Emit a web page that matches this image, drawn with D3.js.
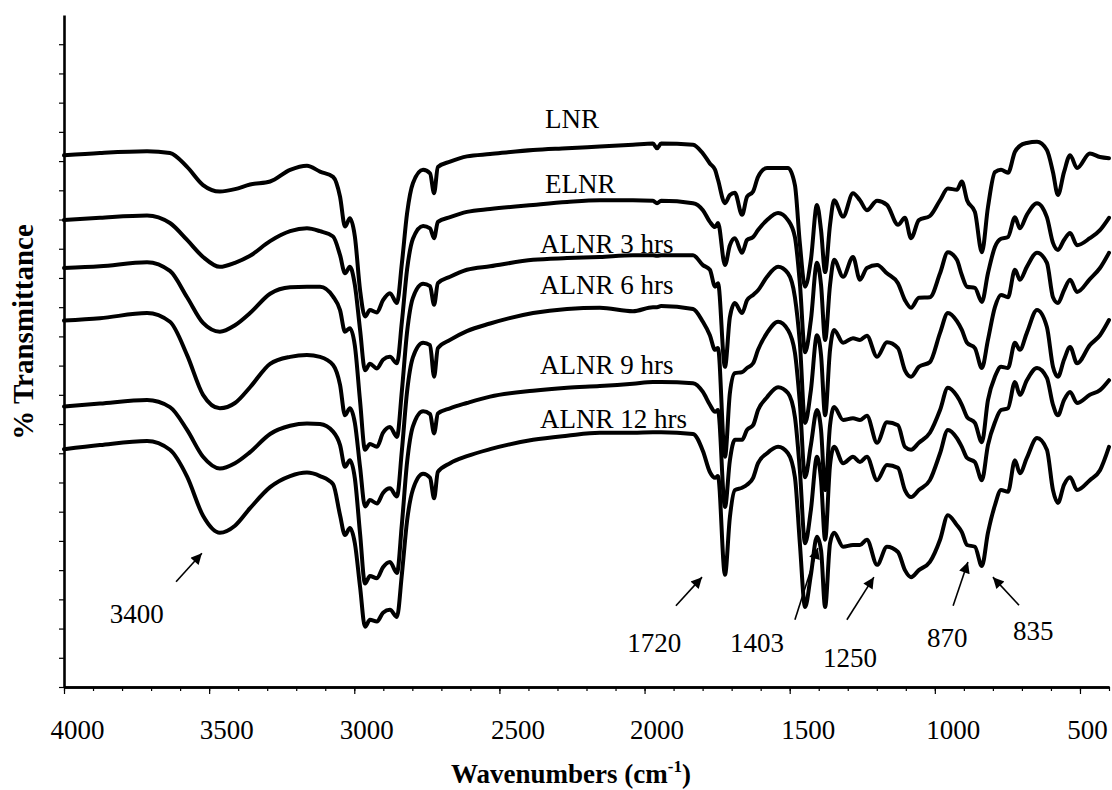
<!DOCTYPE html>
<html><head><meta charset="utf-8">
<script src="https://cdn.jsdelivr.net/npm/d3@7"></script>
<style>
body{margin:0;background:#fff}
svg{display:block}
text{font-family:"Liberation Serif","Times New Roman",serif;fill:#000}
</style>
</head><body>
<svg id="chart" width="1112" height="790"></svg>
<script>
// ---- data (wavenumber grid shared by all spectra) ----
const wavenumbers = [4000,3876,3714,3635,3576,3521,3463,3411,3359,3290,3221,3163,3118,3073,3049,3032,3015,2998,2980,2963,
 2946,2922,2901,2877,2853,2836,2818,2798,2763,2739,2725,2712,2670,2612,2532,2384,2267,2154,2040,1971,
 1957,1943,1833,1799,1775,1757,1747,1723,1706,1689,1664,1647,1626,1609,1578,1540,1506,1482,1465,1447,
 1427,1406,1392,1378,1361,1347,1316,1282,1258,1234,1199,1165,1127,1103,1082,1055,1017,982,955,924,
 907,889,862,838,817,793,772,748,724,707,683,648,614,593,576,555,534,510,466,431,400];

const LNR = [91.0,91.4,91.7,91.4,89.0,85.9,84.8,85.2,86.0,86.5,88.5,89.2,88.2,87.3,83.9,78.8,80.2,77.1,67.9,63.4,
 64.5,64.1,66.2,67.4,65.7,72.5,81.1,86.2,88.5,87.9,84.5,89.0,89.9,90.8,91.2,91.9,92.2,92.5,92.8,93.0,
 92.2,93.0,92.8,91.3,89.6,88.5,86.8,82.8,84.2,84.6,80.8,83.9,84.8,87.3,88.8,88.8,88.8,85.9,75.9,68.5,
 73.1,82.5,78.2,71.0,79.1,83.3,80.5,84.5,83.3,81.6,83.2,82.5,79.1,80.3,76.8,79.9,80.6,83.3,85.3,85.1,
 86.5,83.3,81.3,74.4,82.1,88.1,88.5,88.0,91.6,92.6,93.1,93.3,91.9,88.1,84.2,88.1,91.0,88.8,91.3,90.7,90.5];

const ELNR = [79.9,80.3,80.7,79.4,76.5,73.6,71.9,72.6,73.8,76.3,78.0,78.5,78.0,77.1,73.9,70.8,71.9,68.8,61.1,54.2,
 55.3,54.5,56.0,56.5,55.4,62.5,71.5,76.7,78.9,78.5,76.8,79.6,80.4,81.3,81.8,82.5,83.0,83.3,83.3,83.2,
 82.8,83.2,82.8,81.6,79.6,78.7,79.4,72.2,75.6,76.8,74.3,76.5,77.0,78.2,79.9,81.1,79.9,77.0,69.1,57.3,
 62.8,72.6,68.8,59.4,68.8,73.1,70.2,73.6,69.7,71.7,72.2,70.8,69.1,66.2,64.9,66.6,66.7,70.8,74.4,73.1,
 70.5,68.5,68.3,65.9,70.8,75.3,76.7,77.0,80.4,78.5,80.8,82.8,80.4,76.0,74.8,76.5,77.7,75.6,76.8,78.2,80.3];

const ALNR3 = [71.7,72.0,72.7,71.2,66.7,62.3,60.8,61.9,64.0,67.3,68.4,68.5,68.5,66.8,64.5,60.8,61.4,58.4,48.9,40.6,
 41.6,41.1,43.5,44.5,42.8,50.7,60.8,66.6,69.0,68.6,65.4,69.1,70.2,71.4,72.0,73.1,73.4,73.6,73.9,73.9,
 73.8,73.9,73.9,72.2,71.4,68.5,69.1,54.8,63.3,65.7,64.0,66.2,67.1,67.9,70.2,71.9,70.8,66.7,58.9,45.2,
 50.8,60.2,56.8,46.5,57.7,61.1,58.9,59.7,59.4,60.1,56.5,59.0,58.0,54.2,53.1,54.8,55.6,60.6,64.0,62.6,
 61.1,58.9,58.0,54.6,59.4,65.0,67.1,66.7,71.4,69.7,71.9,74.3,72.6,66.7,65.7,67.9,69.7,67.6,69.8,71.7,74.3];

const ALNR6 = [62.7,63.1,64.0,62.5,56.8,50.0,47.7,48.6,51.3,55.3,56.5,56.8,56.5,55.1,51.7,46.5,47.7,45.2,37.6,30.9,
 32.0,31.4,33.2,34.0,32.6,40.5,50.6,56.4,58.9,58.5,53.1,58.0,59.4,60.9,62.2,64.0,64.7,64.9,64.3,65.0,
 65.0,65.2,64.7,62.5,60.2,57.7,58.0,39.4,50.3,53.7,53.9,54.6,55.4,57.7,60.6,62.5,61.1,57.2,48.6,35.9,
 41.4,47.4,44.0,33.7,44.8,47.9,45.7,46.0,45.7,46.4,41.8,45.3,44.8,41.1,40.6,41.8,43.5,47.4,51.2,49.8,
 48.3,46.2,45.2,41.9,49.1,53.1,54.8,54.6,58.9,57.7,60.6,64.5,61.6,54.8,53.1,56.0,58.2,55.4,58.5,60.2,62.8];

const ALNR9 = [48.0,48.5,49.1,47.9,44.0,39.4,37.4,38.3,40.2,43.3,44.7,45.1,45.0,43.7,41.4,37.7,38.8,35.7,26.2,17.7,
 19.0,18.6,20.5,21.4,19.5,27.9,38.5,44.6,47.2,46.7,43.4,46.8,47.7,48.6,49.7,50.7,51.2,51.5,51.9,52.2,
 52.2,52.2,52.0,50.5,48.3,47.1,47.4,30.8,38.8,42.3,42.3,44.0,44.8,47.4,49.6,51.3,50.3,46.2,37.1,24.6,
 30.3,39.4,35.4,25.2,38.0,41.1,38.3,39.4,38.5,39.4,35.4,38.0,37.5,33.7,32.5,33.7,35.4,40.0,44.0,42.6,
 41.1,39.2,38.5,35.4,41.4,45.3,47.4,47.7,52.2,50.0,52.5,54.6,52.9,48.3,46.5,49.1,50.5,48.6,50.0,50.8,52.5];

const ALNR12 = [40.7,41.4,42.1,40.6,36.0,29.3,26.4,27.6,30.6,34.2,36.1,36.7,36.1,34.7,29.4,26.0,27.2,24.6,17.1,10.3,
 11.5,11.2,12.7,13.2,12.0,19.3,28.5,33.8,36.5,35.8,32.3,36.8,38.3,39.5,40.7,42.3,43.0,43.5,43.5,43.6,
 43.6,43.6,43.3,40.4,36.8,35.8,36.1,19.2,29.1,33.7,34.1,34.6,35.8,38.3,40.0,41.1,40.0,35.9,24.6,13.7,
 19.2,25.7,23.4,13.7,24.6,26.4,24.0,24.3,24.3,25.2,20.9,24.0,23.1,20.0,18.8,20.0,21.4,25.2,29.4,27.7,
 26.5,24.3,24.0,20.7,26.4,31.1,33.7,33.4,38.8,36.6,39.2,42.6,40.6,33.7,31.5,34.6,35.9,33.7,35.4,37.1,41.1];

const seriesNames = ["LNR","ELNR","ALNR 3 hrs","ALNR 6 hrs","ALNR 9 hrs","ALNR 12 hrs"];
const seriesValues = [LNR, ELNR, ALNR3, ALNR6, ALNR9, ALNR12];
const seriesLabelWn  = [2343, 2343, 2360, 2360, 2360, 2360];
const seriesLabelVal = [95.7, 84.5, 74.3, 67.2, 53.6, 44.3];

const xMajorTicks = [4000,3500,3000,2500,2000,1500,1000,500];
const xMajorLabelShift = [13, 17, 12, 18, 12, 18, 18, 7];
const xMinorTicks = d3.range(4000, 399, -100);
const yTicks = d3.range(0, 111, 5);

const annLabels  = ["3400","1720","1403","1250","870","835"];
const annTailWn  = [3614, 1892, 1482, 1303, 937, 710];
const annTailVal = [18.0, 13.9, 11.5, 11.5, 13.9, 14.0];
const annTipWn   = [3525, 1802, 1403, 1210, 886, 800];
const annTipVal  = [22.9, 18.8, 23.8, 18.8, 21.4, 18.8];
const annTextWn  = [3842, 2060, 1706, 1385, 1027, 731];
const annTextVal = [10.9, 6.0, 6.0, 3.4, 6.8, 8.0];

// ---- drawing ----
const svg = d3.select("#chart");
const x = d3.scaleLinear().domain([4000, 400]).range([64, 1109]);
const y = d3.scaleLinear().domain([0, 115]).range([687, 15]);

const defs = svg.append("defs");
defs.append("marker").attr("id","ah").attr("viewBox","0 0 10 10")
  .attr("refX",10).attr("refY",5).attr("markerUnits","userSpaceOnUse")
  .attr("markerWidth",15).attr("markerHeight",11).attr("orient","auto")
  .append("path").attr("d","M0,0 L10,5 L0,10 Z").attr("fill","#000");

// spectra
const line = d3.line().x((d,i)=>x(wavenumbers[i])).y(d=>y(d)).curve(d3.curveMonotoneX);
svg.append("g").selectAll("path").data(seriesValues).join("path")
  .attr("d", d=>line(d)).attr("fill","none").attr("stroke","#000")
  .attr("stroke-width",4).attr("stroke-linejoin","round").attr("stroke-linecap","round");

// x axis
const gx = svg.append("g").attr("transform",`translate(0,${y(0)})`);
gx.call(d3.axisBottom(x).tickValues(xMinorTicks).tickSize(4).tickSizeOuter(0).tickFormat(""));
const gxMaj = gx.append("g").call(d3.axisBottom(x).tickValues(xMajorTicks).tickSize(7).tickSizeOuter(0).tickFormat(d3.format("d")));
gx.selectAll(".domain").attr("stroke","#000").attr("stroke-width",2.6);
gx.selectAll(".tick line").attr("stroke","#000").attr("stroke-width",1.2);
gxMaj.selectAll(".tick text").attr("font-size",27).attr("font-family","Liberation Serif")
  .attr("y",52).attr("dy",0).attr("dx",(d,i)=>xMajorLabelShift[i]);

// y axis
const gy = svg.append("g").attr("transform",`translate(${x(4000)},0)`);
gy.call(d3.axisLeft(y).tickValues(yTicks).tickSize(5).tickSizeOuter(0).tickFormat(""));
gy.select(".domain").attr("stroke","#000").attr("stroke-width",2.6);
gy.selectAll(".tick line").attr("stroke","#000").attr("stroke-width",1.2);

// series labels
svg.append("g").selectAll("text").data(seriesNames).join("text")
  .attr("x",(d,i)=>x(seriesLabelWn[i])).attr("y",(d,i)=>y(seriesLabelVal[i]))
  .attr("font-size",27).text(d=>d);

// annotations
const ann = svg.append("g");
annLabels.forEach((lab,i)=>{
  ann.append("line").attr("x1",x(annTailWn[i])).attr("y1",y(annTailVal[i]))
    .attr("x2",x(annTipWn[i])).attr("y2",y(annTipVal[i]))
    .attr("stroke","#000").attr("stroke-width",1.6).attr("marker-end","url(#ah)");
  ann.append("text").attr("x",x(annTextWn[i])).attr("y",y(annTextVal[i]))
    .attr("font-size",27).text(lab);
});

// axis titles
const xt = svg.append("text").attr("x",571).attr("y",783).attr("text-anchor","middle")
  .attr("font-size",27).attr("font-weight","bold");
xt.append("tspan").text("Wavenumbers (cm");
xt.append("tspan").attr("font-size",17).attr("dy",-11).text("-1");
xt.append("tspan").attr("dy",11).text(")");

svg.append("text").attr("transform","translate(33,332) rotate(-90)")
  .attr("text-anchor","middle").attr("font-size",29).attr("font-weight","bold")
  .text("% Transmittance");
</script>
</body></html>
